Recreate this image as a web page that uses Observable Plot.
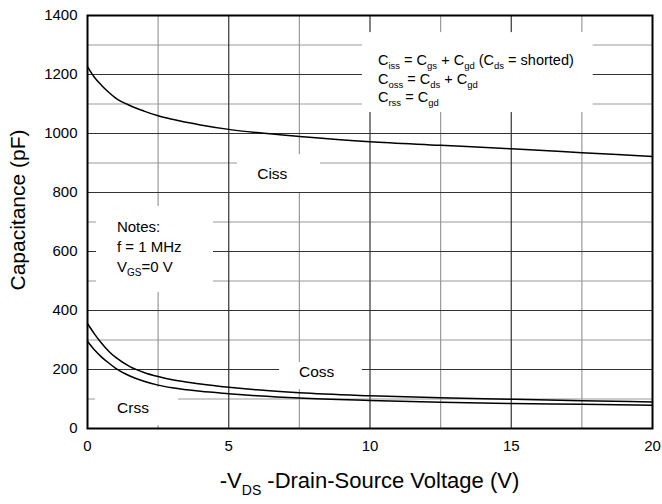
<!DOCTYPE html>
<html><head><meta charset="utf-8">
<script src="https://cdn.jsdelivr.net/npm/d3@7"></script>
<script src="https://cdn.jsdelivr.net/npm/@observablehq/plot@0.6"></script>
<style>body{margin:0;background:#fff} svg text{white-space:pre}</style>
</head><body><div id="chart"></div>
<script>
// ---- data ----
const voltage = [0, 0.25, 0.5, 0.75, 1, 1.5, 2, 2.5, 3, 4, 5, 6, 7.5, 10, 12.5, 15, 17.5, 20];
const ciss = [1227, 1190, 1163, 1140, 1120, 1095, 1076, 1060, 1048, 1029, 1014, 1003, 990, 972, 960, 948, 935, 922];
const coss = [356, 320, 289, 262, 241, 210, 190, 176, 165, 151, 140, 131, 121, 111, 104, 99, 94, 90];
const crss = [296, 266, 242, 222, 204, 178, 160, 147, 138, 126, 118, 111, 103, 95, 89, 85, 82, 79];
const seriesNames = ["Ciss", "Coss", "Crss"];

const xTicks = [0, 5, 10, 15, 20];
const yTicks = [0, 200, 400, 600, 800, 1000, 1200, 1400];
const xGridMajor = [5, 10, 15];
const xGridMinor = [2.5, 7.5, 12.5, 17.5];
const yGridMajor = [200, 400, 600, 800, 1000, 1200];
const yGridMinor = [100, 300, 500, 700, 900, 1100, 1300];

// curve labels (data units)
const labelText = ["Ciss", "Coss", "Crss"];
const labelV = [6.54, 8.11, 1.61];
const labelC = [861, 190, 68];

// white panels behind annotations (data units)
const maskV1 = [5.31, 6.80, 0.28, 0.32, 9.73];
const maskV2 = [8.25, 9.73, 3.22, 4.46, 17.9];
const maskC1 = [800, 132, 10, 461, 1071];
const maskC2 = [929, 224, 139, 753, 1342];

const notesLines = ["Notes:", "f = 1 MHz", "V_{GS}=0 V"];
const notesAt = [1.06, 663];
const formulaLines = ["C_{iss} = C_{gs} + C_{gd} (C_{ds} = shorted)", "C_{oss} = C_{ds} + C_{gd}", "C_{rss} = C_{gd}"];
const formulaAt = [10.3, 1229];
const xTitle = "-V_{DS} -Drain-Source Voltage (V)";
const yTitle = "Capacitance (pF)";

// ---- build ----
const rows = voltage.flatMap((v, i) => [
  {v, c: ciss[i], s: seriesNames[0]},
  {v, c: coss[i], s: seriesNames[1]},
  {v, c: crss[i], s: seriesNames[2]}
]);
const masks = maskV1.map((d, i) => ({x1: d, x2: maskV2[i], y1: maskC1[i], y2: maskC2[i]}));
const labels = labelText.map((t, i) => ({t, v: labelV[i], c: labelC[i]}));

const font = "'Liberation Sans', Arial, Helvetica, sans-serif";

const chart = Plot.plot({
  width: 662, height: 504,
  marginLeft: 87, marginRight: 10, marginTop: 15, marginBottom: 76,
  style: {fontFamily: font, fontSize: "15px", background: "white", color: "black"},
  x: {domain: [0, 20], ticks: xTicks, tickSize: 0, tickPadding: 12, tickFormat: d => String(d), label: null},
  y: {domain: [0, 1400], ticks: yTicks, tickSize: 0, tickPadding: 10, tickFormat: d => String(d), label: null},
  marks: [
    Plot.gridX(xGridMinor, {stroke: "#9a9a9a", strokeOpacity: 1, strokeWidth: 1.2}),
    Plot.gridY(yGridMinor, {stroke: "#9a9a9a", strokeOpacity: 1, strokeWidth: 1.2}),
    Plot.gridX(xGridMajor, {stroke: "#333", strokeOpacity: 1, strokeWidth: 1.2}),
    Plot.gridY(yGridMajor, {stroke: "#333", strokeOpacity: 1, strokeWidth: 1.2}),
    Plot.rect(masks, {x1: "x1", x2: "x2", y1: "y1", y2: "y2", fill: "white"}),
    Plot.line(rows, {x: "v", y: "c", z: "s", curve: "monotone-x", stroke: "black", strokeWidth: 1.5}),
    Plot.frame({stroke: "black", strokeWidth: 2}),
    Plot.text(labels, {x: "v", y: "c", text: "t", fontSize: 15.5, textAnchor: "middle", lineAnchor: "middle", fill: "black"})
  ]
});

const sx = chart.scale("x").apply, sy = chart.scale("y").apply;
const svg = d3.select(chart);
const g = svg.append("g").attr("font-family", font).attr("fill", "black");

function rich(str, x, y, size, subSize, shift, anchor) {
  const t = g.append("text").attr("x", x).attr("y", y).attr("font-size", size)
    .attr("text-anchor", anchor || "start");
  const re = /_\{([^}]*)\}/g;
  let last = 0, m, down = false;
  while ((m = re.exec(str))) {
    if (m.index > last) {
      const s = t.append("tspan").text(str.slice(last, m.index));
      if (down) { s.attr("dy", -shift); down = false; }
    }
    const sub = t.append("tspan").attr("font-size", subSize).text(m[1]);
    if (!down) { sub.attr("dy", shift); down = true; }
    last = re.lastIndex;
  }
  if (last < str.length) {
    const s = t.append("tspan").text(str.slice(last));
    if (down) s.attr("dy", -shift);
  }
  return t;
}

notesLines.forEach((l, i) => rich(l, sx(notesAt[0]), sy(notesAt[1]) + i * 19.7, 15, 10, 4));
formulaLines.forEach((l, i) => rich(l, sx(formulaAt[0]), sy(formulaAt[1]) + i * 18.2, 14.5, 9.5, 4));
rich(xTitle, (sx(0) + sx(20)) / 2, 488, 22, 14, 7, "middle");
g.append("text").attr("transform", "translate(24.5,210) rotate(-90)")
  .attr("text-anchor", "middle").attr("font-size", 21).text(yTitle);

document.getElementById("chart").appendChild(chart);
</script></body></html>
